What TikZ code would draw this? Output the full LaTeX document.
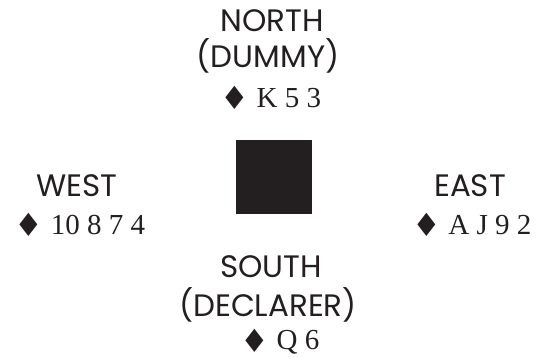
\documentclass[tikz,border=0pt]{standalone}
\usepackage{fontspec}
\setmainfont{Liberation Serif}
\newfontfamily\seatfont{Poppins}
\newfontfamily\suitfont{DejaVu Sans}
\usepackage{xcolor}
\usepackage{tikz}
\usetikzlibrary{positioning}

\definecolor{ink}{HTML}{231F20}
\newcommand{\dia}{\raisebox{-2pt}{\suitfont\fontsize{32}{34}\selectfont ♦}}

\tikzset{
  seat/.style={anchor=base, inner sep=0pt, text=ink, font=\seatfont\fontsize{31}{34}\selectfont},
  cards/.style={anchor=base, inner sep=0pt, text=ink, font=\fontsize{29}{32}\selectfont},
}

\begin{document}
\begin{tikzpicture}[x=1pt, y=-1pt]
        \useasboundingbox (0,0) rectangle (536,358);

        % Table
        \fill[ink] (236,140) rectangle (312,214);
        \coordinate (table) at (274,177);

        % North
        \node[seat] (north) at (272,32) {NORTH};
        \node[seat] (dummy) at (268,68) {(DUMMY)};
        \node[cards] (northcards) at (271,108) {\dia\ K 5 3};

        % West
        \node[seat] (west) at (77,197) {WEST};
        \node[cards] (westcards) at (80,235) {\dia\ 10 8 7 4};

        % East
        \node[seat] (east) at (470,197) {EAST};
        \node[cards] (eastcards) at (472,235) {\dia\ A J 9 2};

        % South
        \node[seat] (south) at (271,278) {SOUTH};
        \node[seat] (declarer) at (268,317) {(DECLARER)};
        \node[cards] (southcards) at (280,350) {\dia\ Q 6};
    \end{tikzpicture}
\end{document}
